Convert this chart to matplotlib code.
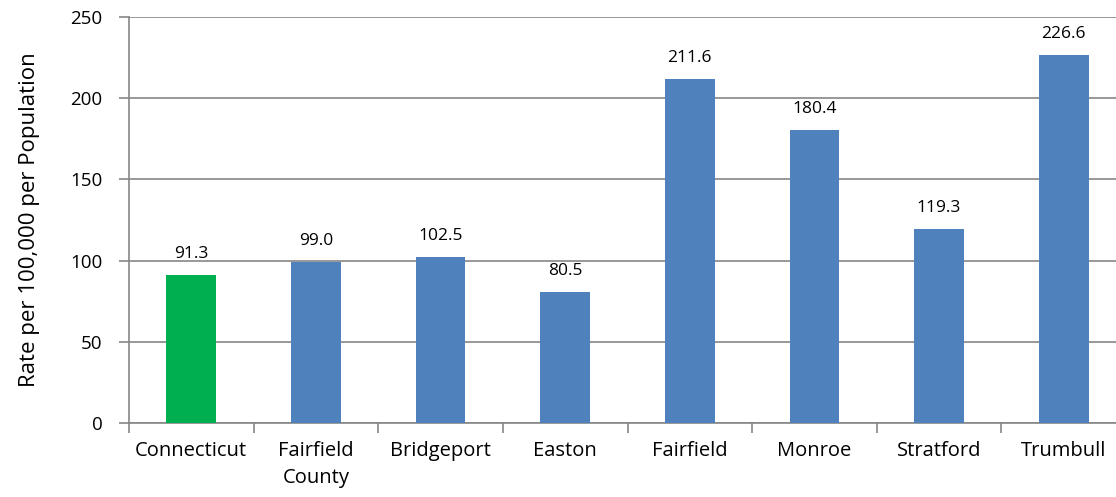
import matplotlib
matplotlib.use("Agg")
import matplotlib.pyplot as plt
import numpy as np

categories = ["Connecticut", "Fairfield\nCounty", "Bridgeport", "Easton", "Fairfield", "Monroe", "Stratford", "Trumbull"]
values = [91.3, 99.0, 102.5, 80.5, 211.6, 180.4, 119.3, 226.6]
colors = ["#00B050"] + ["#4F81BD"] * 7
yticks = [0, 50, 100, 150, 200, 250]

plt.rcParams['font.family'] = ['Open Sans', 'DejaVu Sans']

fig = plt.figure(figsize=(11.16, 4.97), dpi=100)
ax = fig.add_axes([129/1116, 1-423/497, 997/1116, (423-17)/497])

x = np.arange(len(categories))
ax.bar(x, values, width=0.4, color=colors, zorder=3)
for xi, v in zip(x, values):
    ax.text(xi, v + 8, f"{v:.1f}", ha="center", va="bottom", fontsize=12.5, color="#000000")

ax.set_xlim(-0.5, len(categories) - 0.5)
ax.set_ylim(0, 250)
ax.set_yticks(yticks)
ax.set_yticklabels([str(t) for t in yticks], fontsize=13.5)
ax.set_xticks(x)
ax.set_xticklabels(categories, fontsize=14.5, linespacing=1.45)
ax.tick_params(axis="x", length=0, pad=13)
ax.set_xticks(np.arange(-0.5, len(categories) + 0.5, 1), minor=True)
ax.tick_params(axis="x", which="minor", length=7, color="#868686", width=1.2)
ax.tick_params(axis="y", length=7, color="#868686", width=1.2, pad=12)

ax.grid(axis="y", color="#868686", linewidth=1.2, zorder=0)
for s in ["top", "right"]:
    ax.spines[s].set_visible(False)
for s in ["left", "bottom"]:
    ax.spines[s].set_color("#868686")
    ax.spines[s].set_linewidth(1.2)

ax.set_ylabel("Rate per 100,000 per Population", fontsize=16, labelpad=22)

fig.savefig("out.png", dpi=100)
